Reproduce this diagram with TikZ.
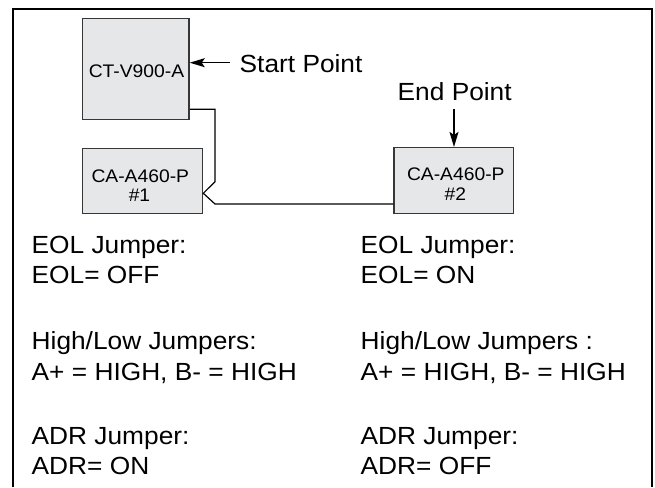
\documentclass[tikz,border=0pt]{standalone}
\usepackage{fontspec}
\setmainfont{Liberation Sans}[FakeStretch=1.06]
\usetikzlibrary{arrows.meta}
\definecolor{boxfill}{RGB}{230,231,232}
\definecolor{boxline}{RGB}{55,55,55}
\tikzset{
  devbox/.style={draw=boxline, fill=boxfill, line width=1.5pt, inner sep=0pt},
  boxtext/.style={inner sep=0pt, anchor=base, font=\fontsize{18.2}{20}\selectfont},
  bigtext/.style={inner sep=0pt, anchor=base west, font=\fontsize{24.8}{31.5}\selectfont},
  wire/.style={line width=1.2pt, line join=miter},
  pointer/.style={line width=1.4pt, -{Stealth[length=15pt,width=9pt,inset=3pt]}},
}
\begin{document}
\begin{tikzpicture}[x=1pt,y=-1pt]
\useasboundingbox (0,0) rectangle (655,487);
% outer frame (open at the bottom)
\draw[line width=2pt] (13.3,487) -- (13.3,9.3) -- (651.7,9.3) -- (651.7,487);

% devices
\node[devbox, minimum width=106.3pt, minimum height=101pt] (ct) at (135.85,68.8) {};
\node[boxtext] (ctt) at (136.5,77.3) {CT-V900-A};
\node[devbox, minimum width=119.8pt, minimum height=64.6pt] (b1) at (142.6,181) {};
\node[boxtext] (b1a) at (140.3,182) {CA-A460-P};
\node[boxtext] (b1b) at (139.5,201.7) {\#1};
\node[devbox, minimum width=119.3pt, minimum height=65.6pt] (b2) at (453.65,180.5) {};
\node[boxtext] (b2a) at (455.8,180.7) {CA-A460-P};
\node[boxtext] (b2b) at (455.3,200) {\#2};

% wiring
\coordinate (c1) at (215,109.3);
\coordinate (c2) at (215,181.7);
\coordinate (c3) at (203.3,193.3);
\coordinate (c4) at (215,204);
\draw[wire] (ct.east |- c1) -- (c1) -- (c2) -- (c3) -- (c4) -- (b2.west |- c4);

% pointers
\node[bigtext] (start) at (239.5,72) {Start Point};
\coordinate (st) at (230,62.7);
\draw[pointer] (st) -- (ct.east |- st);
\node[bigtext] (end) at (397.5,100.5) {End Point};
\coordinate (et) at (454,109.3);
\draw[pointer] (et) -- (et |- b2.north);

% jumper settings, device 1
\node[bigtext] (l1) at (31.5,253) {EOL Jumper:};
\node[bigtext] (l2) at (31.5,283.5) {EOL= OFF};
\node[bigtext] (l3) at (31.5,349) {High/Low Jumpers:};
\node[bigtext] (l4) at (31.5,380.5) {A+ = HIGH, B- = HIGH};
\node[bigtext] (l5) at (31.5,444) {ADR Jumper:};
\node[bigtext] (l6) at (31.5,474.5) {ADR= ON};
% jumper settings, device 2
\node[bigtext] (r1) at (360.5,253) {EOL Jumper:};
\node[bigtext] (r2) at (360.5,283.5) {EOL= ON};
\node[bigtext] (r3) at (360.5,349) {High/Low Jumpers :};
\node[bigtext] (r4) at (360.5,380.5) {A+ = HIGH, B- = HIGH};
\node[bigtext] (r5) at (360.5,444) {ADR Jumper:};
\node[bigtext] (r6) at (360.5,474.5) {ADR= OFF};
\end{tikzpicture}
\end{document}
